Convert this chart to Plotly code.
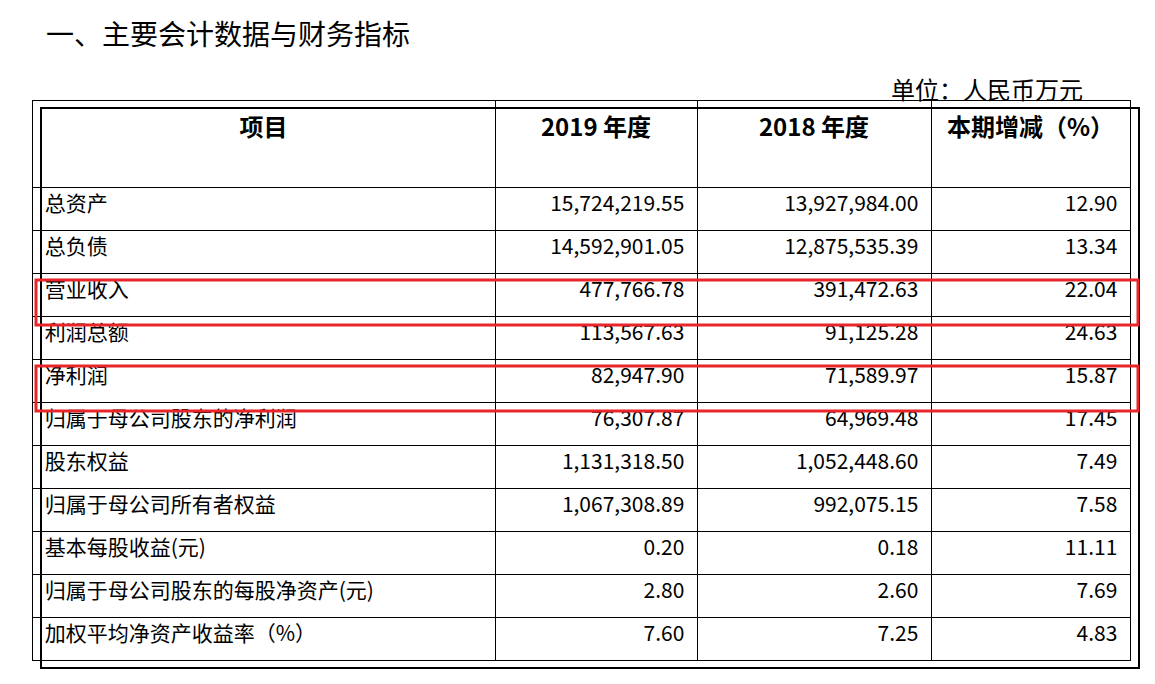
import plotly.graph_objects as go

headers = ["项目", "2019 年度", "2018 年度", "本期增减（%）"]
items = ["总资产", "总负债", "营业收入", "利润总额", "净利润", "归属于母公司股东的净利润", "股东权益",
         "归属于母公司所有者权益", "基本每股收益(元)", "归属于母公司股东的每股净资产(元)", "加权平均净资产收益率（%）"]
y2019 = ["15,724,219.55", "14,592,901.05", "477,766.78", "113,567.63", "82,947.90", "76,307.87",
         "1,131,318.50", "1,067,308.89", "0.20", "2.80", "7.60"]
y2018 = ["13,927,984.00", "12,875,535.39", "391,472.63", "91,125.28", "71,589.97", "64,969.48",
         "1,052,448.60", "992,075.15", "0.18", "2.60", "7.25"]
change = ["12.90", "13.34", "22.04", "24.63", "15.87", "17.45", "7.49", "7.58", "11.11", "7.69", "4.83"]
highlight = ["营业收入", "净利润"]

W, H = 1155, 684
x0, x1, top, hdr, rowh = 33, 1131, 100, 87, 43
dx, dy = 9, 8
font = "Noto Sans CJK SC"

fig = go.Figure(go.Table(
    domain=dict(x=[(x0 - dx) / W, (x1 - dx) / W], y=[0, 1 - (top - dy) / H]),
    columnwidth=[463, 202, 234, 199],
    header=dict(values=["<b>%s</b>" % h for h in headers], height=hdr,
                align="center", fill_color="white", line=dict(color="black", width=1),
                font=dict(family=font, size=24, color="black")),
    cells=dict(values=[[" " + i for i in items], [v + " " for v in y2019],
                       [v + " " for v in y2018], [v + " " for v in change]],
               height=rowh, align=["left", "right", "right", "right"], fill_color="white",
               line=dict(color="black", width=1),
               font=dict(family=font, size=21, color="black")),
))

shapes = [dict(type="rect", xref="paper", yref="paper", x0=x0 / W, x1=x1 / W,
               y0=1 - (top + hdr + rowh * len(items)) / H, y1=1 - top / H,
               line=dict(color="black", width=2))]
for name in highlight:
    i = items.index(name)
    ya = top + hdr + rowh * i
    shapes.append(dict(type="rect", xref="paper", yref="paper", x0=28 / W, x1=1130 / W,
                       y0=1 - (ya + rowh + 1) / H, y1=1 - (ya - 1) / H,
                       line=dict(color="#e8262a", width=3)))

fig.update_layout(
    width=W, height=H, margin=dict(l=0, r=0, t=0, b=0), paper_bgcolor="white",
    shapes=shapes,
    annotations=[
        dict(text="一、主要会计数据与财务指标", xref="paper", yref="paper", x=36 / W, y=1 - 25 / H,
             xanchor="left", yanchor="middle", showarrow=False,
             font=dict(family=font, size=28, color="black")),
        dict(text="单位：人民币万元", xref="paper", yref="paper", x=1077 / W, y=1 - 80 / H,
             xanchor="right", yanchor="middle", showarrow=False,
             font=dict(family=font, size=24, color="black")),
    ],
)
fig.write_html("out.html")
